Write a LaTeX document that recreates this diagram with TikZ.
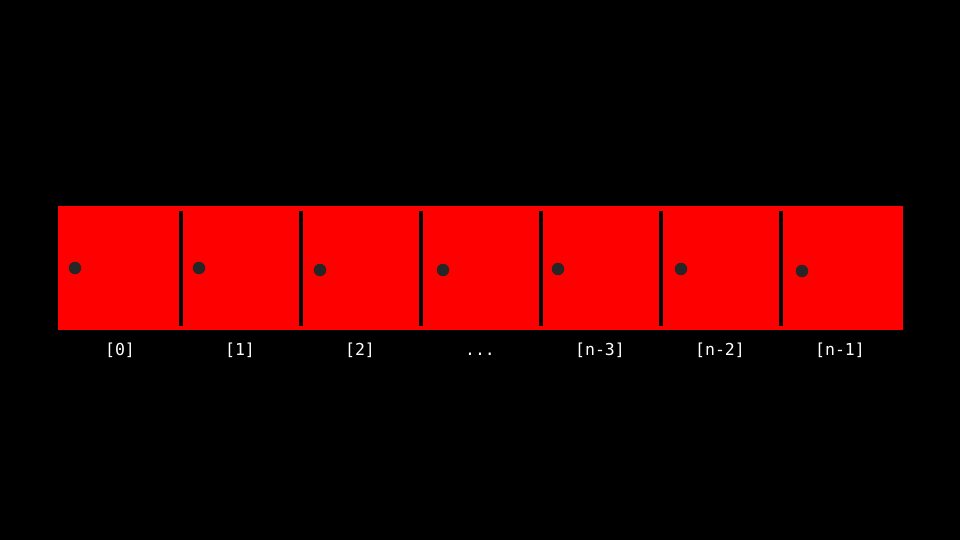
\documentclass[tikz,border=0pt]{standalone}
\usepackage{fontspec}
\setmonofont{DejaVu Sans Mono}
\definecolor{dotgray}{HTML}{262626}
\begin{document}
\begin{tikzpicture}[x=1pt,y=-1pt,
  divider/.style={line width=4pt,black},
  cellDot/.style={circle,fill=dotgray,inner sep=0pt,minimum size=12.5pt},
  idx/.style={text=white,font=\ttfamily\fontsize{16.5}{19}\selectfont,inner sep=0pt,anchor=base}]
\fill[black] (0,0) rectangle (960,540);
\useasboundingbox (0,0) rectangle (960,540);
\fill[red] (58,206) rectangle (902.5,330);
\foreach \x/\n in {180.5/d1,300.5/d2,420.5/d3,540.5/d4,660.5/d5,780.5/d6}{
  \coordinate (\n t) at (\x,211);
  \coordinate (\n b) at (\x,326);
  \draw[divider] (\n t) -- (\n b);
}
\node[cellDot] (p0) at (75,268) {};
\node[cellDot] (p1) at (199,268) {};
\node[cellDot] (p2) at (320,270) {};
\node[cellDot] (p3) at (443,270) {};
\node[cellDot] (p4) at (558,269) {};
\node[cellDot] (p5) at (681,269) {};
\node[cellDot] (p6) at (802,271) {};
\node[idx] (l0) at (120,355) {[0]};
\node[idx] (l1) at (240,355) {[1]};
\node[idx] (l2) at (360,355) {[2]};
\node[idx] (l3) at (480,355) {...};
\node[idx] (l4) at (600,355) {[n-3]};
\node[idx] (l5) at (720,355) {[n-2]};
\node[idx] (l6) at (840,355) {[n-1]};
\end{tikzpicture}
\end{document}
